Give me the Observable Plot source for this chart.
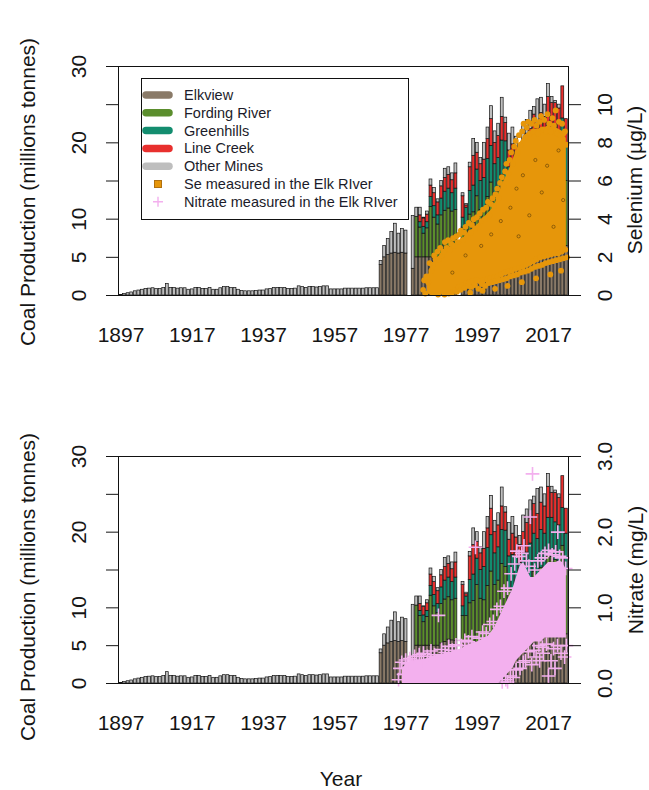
<!DOCTYPE html>
<html><head><meta charset="utf-8">
<script src="https://cdn.jsdelivr.net/npm/d3@7"></script>
<script src="https://cdn.jsdelivr.net/npm/@observablehq/plot@0.6"></script>
<style>
body{margin:0;background:#fff;}
#wrap{position:relative;width:649px;height:790px;font-family:"Liberation Sans",Arial,sans-serif;color:#151515;overflow:hidden;background:#fff;}
.lbl{position:absolute;white-space:nowrap;font-size:21px;line-height:1;transform:translate(-50%,-50%);}
.rot{transform:translate(-50%,-50%) rotate(-90deg);}
</style></head><body>
<div id="wrap">
 <div id="top" style="position:absolute;left:0;top:0"></div>
 <div id="bot" style="position:absolute;left:0;top:390px"></div>
 <div class="lbl rot" style="left:27px;top:192px">Coal Production (millions tonnes)</div>
 <div class="lbl rot" style="left:27px;top:587px">Coal Production (millions tonnes)</div>
 <div class="lbl rot" style="left:634px;top:180px">Selenium (µg/L)</div>
 <div class="lbl rot" style="left:635px;top:570px">Nitrate (mg/L)</div>
 <div class="lbl" style="left:341px;top:778px">Year</div>
 <div id="legend" style="position:absolute;left:141px;top:78px"></div>
</div>
<script>
// ---------- categories ----------
const years = d3.range(1897, 2023);
const modernStart = 1970;
const mines = ["Elkview", "Fording River", "Greenhills", "Line Creek", "Other Mines"];
const mineColors = ["#8a7a68", "#5b8e2d", "#138d6f", "#e8302e", "#bebebe"];
const labelYears = [1897, 1917, 1937, 1957, 1977, 1997, 2017];
const coalTicks = [0, 5, 10, 15, 20, 25, 30];
const coalLabels = [0, 5, 10, 20, 30];
const seTicks = [0, 2, 4, 6, 8, 10];
const no3Ticks = [0, 0.5, 1, 1.5, 2, 2.5, 3];
const no3Labels = [0, 1, 2, 3];

// ---------- coal production (millions tonnes) ----------
// Other Mines, 1897-2022
const otherMines = [
 0.05,0.2,0.3,0.4,0.55,0.65,0.75,0.85,0.9,0.95,
 0.85,0.85,1.0,1.5,1.0,1.0,0.9,0.95,0.95,0.75,
 0.8,1.0,1.0,0.85,0.85,1.0,0.75,0.75,0.95,1.1,
 1.1,1.0,1.0,0.75,0.6,0.55,0.55,0.55,0.6,0.65,
 0.65,0.8,0.85,1.0,1.0,1.0,1.0,0.85,0.85,0.9,
 1.2,1.1,1.0,1.1,1.1,1.05,1.1,1.2,1.2,0.8,
 0.8,0.8,0.8,0.9,0.9,0.9,0.9,0.9,0.9,0.95,
 0.95,0.95,0.95,
 0.5,1.5,2.1,2.8,3.8,2.6,3.1,3.0,0,6.9,
 1.2,1.0,0.1,0.4,0.8,0.7,0.4,0.7,1.2,1.0,
 0.9,1.3,0,0.4,0.2,0.6,2.2,1.3,0.8,2.2,
 1.5,1.7,1.5,1.6,2.5,0.7,2.2,2.2,1.5,1.2,
 2.2,1.8,2.4,1.0,3.3,2.0,1.6,1.7,0.8,0.3,
 0.5,0.0,0.0
];
// 1970-2022
const elkview = [
 4.0,5.0,5.3,5.5,5.6,5.5,5.6,5.5,0,3.5,
 5.0,5.0,5.0,5.0,5.0,5.0,5.0,5.3,5.5,5.8,
 5.7,5.6,0,5.4,5.4,5.4,5.4,5.4,5.4,5.4,
 5.4,5.4,5.4,5.4,6.0,6.0,6.0,6.0,6.0,5.8,
 6.0,6.0,6.2,6.3,6.3,6.5,6.5,6.5,6.5,6.5,
 6.5,6.5,6.5
];
const fordingRiver = [
 0,0,0,0,0,0,0,0,0,0,
 5.3,3.9,3.1,3.8,6.6,5.2,4.3,5.2,5.6,5.6,
 5.3,5.6,0,3.5,3.5,5.2,5.5,7.6,5.8,5.6,
 7.5,9.4,7.6,8.2,9.8,9.4,6.6,6.5,6.4,6.1,
 6.6,6.8,7.5,8.5,7.8,8.8,8.5,10.4,10.2,9.8,
 9.6,11.7,8.5
];
const greenhills = [
 0,0,0,0,0,0,0,0,0,0,
 0,0.7,0.9,0.8,1.3,1.5,1.2,2.2,2.5,2.6,
 2.4,2.8,0,1.3,2.6,3.1,3.5,3.5,3.8,4.4,
 5.0,4.8,4.2,4.4,4.5,4.8,4.2,4.5,4.3,4.0,
 4.6,4.5,4.8,5.0,5.0,5.0,4.8,5.0,5.2,5.0,
 4.8,5.0,4.8
];
const lineCreek = [
 0,0,0,0,0,0,0,0,0,0,
 0,0.9,1.1,1.0,1.5,1.7,1.7,1.6,1.8,1.8,
 1.7,2.0,0,2.8,0.3,3.1,3.9,2.2,2.2,2.4,
 2.6,3.5,2.8,2.9,3.1,2.4,2.2,2.8,2.6,2.4,
 2.8,3.9,3.3,3.9,3.3,3.6,3.6,4.1,3.3,3.9,
 3.6,4.2,3.3
];

// ---------- selenium in the Elk River (µg/L) ----------
// dense core of the sample cloud, per year
const seBandYears = d3.range(1983, 2023);
const seLow = [
 0.1,0.0,0.0,0.0,0.05,0.1,0.15,0.25,0.35,0.5,
 0.6,0.65,0.7,0.7,0.75,0.75,0.75,0.8,0.85,0.9,
 0.95,1.05,1.15,1.2,1.25,1.35,1.4,1.45,1.55,1.65,
 1.75,1.85,1.95,2.0,2.05,2.1,2.15,2.15,2.25,2.35
];
const seHigh = [
 0.9,1.5,1.8,2.0,2.2,2.4,2.5,2.6,2.7,2.9,
 3.0,3.2,3.4,3.5,3.7,3.9,4.1,4.3,4.5,4.8,
 5.3,5.8,6.2,6.6,7.1,7.6,8.0,8.3,8.5,8.6,
 8.7,8.7,8.8,8.8,8.9,8.8,8.8,8.7,8.6,8.2
];
// individual samples at the fringe of the cloud
const seSamples = [
 [1982.3,0.3],[1982.6,0.8],[1982.9,0.1],[1983.2,1.0],[1983.7,0.7],[1984.1,1.7],[1984.6,1.3],[1985.0,1.6],
 [1985.4,2.1],[1985.8,1.9],[1986.3,2.3],[1986.7,1.9],[1987.1,2.5],[1987.6,2.1],[1988.0,2.3],[1988.4,2.8],
 [1988.9,2.5],[1989.3,2.9],[1989.8,2.4],[1990.2,2.7],[1990.7,3.0],[1991.1,2.6],[1991.6,3.1],[1992.0,2.8],
 [1992.5,3.2],[1992.9,3.4],[1993.4,2.9],[1993.8,3.3],[1994.2,3.6],[1994.7,3.1],[1995.1,3.8],[1995.6,3.3],
 [1996.0,3.7],[1996.5,4.0],[1996.9,3.5],[1997.4,4.1],[1997.8,3.6],[1998.2,4.3],[1998.7,3.9],[1999.1,4.5],
 [1999.6,4.0],[2000.0,4.6],[2000.5,4.9],[2000.9,4.2],[2001.3,4.8],[2001.8,5.1],[2002.2,4.7],[2002.6,5.3],
 [2003.1,5.6],[2003.5,5.1],[2003.9,5.9],[2004.4,6.2],[2004.8,5.7],[2005.3,6.5],[2005.7,6.9],[2006.2,6.4],
 [2006.6,7.1],[2007.0,7.5],[2007.5,6.9],[2007.9,7.8],[2008.3,8.1],[2008.8,7.5],[2009.2,8.4],[2009.6,7.9],
 [2010.1,8.6],[2010.5,9.0],[2011.0,8.3],[2011.4,8.8],[2011.8,9.1],[2012.3,8.5],[2012.7,9.0],[2013.2,8.6],
 [2013.6,9.2],[2014.1,8.9],[2014.5,8.5],[2015.0,9.1],[2015.4,9.4],[2015.9,8.7],[2016.3,9.2],[2016.8,8.6],
 [2017.2,9.5],[2017.7,9.0],[2018.1,8.6],[2018.6,9.3],[2019.0,8.9],[2019.5,9.7],[2019.9,8.5],[2020.4,9.1],
 [2020.8,8.4],[2021.3,9.0],[2021.7,8.5],[2022.1,8.6],[2022.5,7.9],
 [1986.5,0.05],[1988.3,0.05],[1989.5,0.1],[1990.4,0.15],[1991.2,0.3],[1991.8,0.2],[1992.3,0.45],[1992.8,0.3],
 [1993.3,0.55],[1993.9,0.4],[1994.4,0.65],[1994.9,0.5],[1995.3,0.7],[1995.8,0.45],[1996.3,0.75],[1996.8,0.55],
 [1997.3,0.8],[1997.8,0.35],[1998.3,0.75],[1998.8,0.6],[1999.2,0.8],[1999.7,0.5],[2000.2,0.85],[2000.7,0.65],
 [2001.2,0.9],[2001.7,0.7],[2002.2,0.95],[2002.7,0.75],[2003.2,1.0],[2003.7,0.8],[2004.2,1.1],[2004.7,0.85],
 [2005.2,1.2],[2005.7,0.9],[2006.2,1.25],[2006.7,1.0],[2007.2,1.3],[2007.7,1.05],[2008.2,1.4],[2008.7,1.1],
 [2009.2,1.45],[2009.7,1.2],[2010.2,1.5],[2010.7,1.25],[2011.2,1.6],[2011.7,1.3],[2012.2,1.7],[2012.7,1.4],
 [2013.2,1.8],[2013.7,1.5],[2014.2,1.9],[2014.7,1.55],[2015.2,2.0],[2015.7,1.6],[2016.2,2.05],[2016.7,1.7],
 [2017.2,2.1],[2017.7,1.75],[2018.2,2.15],[2018.7,1.8],[2019.2,2.2],[2019.7,1.85],[2020.2,2.2],[2020.7,1.9],
 [2021.2,2.3],[2021.7,1.95],[2022.2,2.4],[2022.7,2.0],
 [1995.5,0.15],[1999.0,0.25],[2002.5,0.35],[2006.0,0.5],[2010.0,0.7],[2014.0,0.9],[2018.0,1.1],[2021.0,1.3]
];
// a few samples drawn with dark rims inside the cloud
const seDarkSamples = [
 [1990.5,1.2],[1994.2,2.1],[1998.6,2.6],[2001.4,3.2],[2004.1,3.9],[2006.8,4.6],[2008.5,5.6],[2010.3,6.3],
 [2012.1,4.2],[2013.8,7.1],[2015.6,5.4],[2017.1,6.8],[2018.9,3.6],[2020.3,7.6],[2021.6,5.0],[2009.1,3.1]
];

// ---------- nitrate in the Elk River (mg/L) ----------
const no3BandYears = d3.range(1976, 2023);
const no3Low = [
 0,0,0,0,0,0,0,0,0,0,
 0,0,0,0,0,0,0,0,0,0,
 0,0,0,0,0,0,0,0,
 0.05,0.1,0.15,0.2,0.3,0.35,0.4,0.45,0.5,0.55,
 0.55,0.55,0.6,0.6,0.6,0.6,0.6,0.6,0.6
];
const no3High = [
 0.2,0.25,0.28,0.3,0.3,0.3,0.32,0.33,0.35,0.36,
 0.38,0.38,0.4,0.4,0.42,0.43,0.45,0.47,0.5,0.52,
 0.54,0.55,0.57,0.6,0.62,0.68,0.75,0.85,0.95,1.05,
 1.15,1.25,1.4,1.55,1.6,1.5,1.4,1.4,1.45,1.5,
 1.55,1.6,1.6,1.6,1.62,1.6,1.5
];
const no3Samples = [
 [1975.4,0.05],[1975.8,0.2],[1976.3,0.28],[1976.8,0.12],[1977.4,0.31],[1978.0,0.26],[1978.6,0.33],[1979.2,0.28],
 [1979.9,0.36],[1980.5,0.31],[1981.2,0.38],[1981.8,0.3],[1982.4,0.4],[1983.5,0.36],[1984.5,0.43],[1985.5,0.38],
 [1986.6,0.9],[1987.5,0.45],[1988.5,0.41],[1989.5,0.49],[1990.5,0.44],[1991.5,0.51],[1993.0,0.5],[1994.0,0.57],
 [1995.0,0.55],[1996.0,0.62],[1997.0,1.8],[1998.0,0.6],[1999.0,0.68],[2000.0,0.66],[2001.0,0.78],[2002.0,0.82],
 [2003.0,0.98],[2004.0,1.02],[2005.0,1.22],[2006.0,1.26],[2006.0,0.02],[2007.0,1.45],[2008.0,1.58],[2008.6,1.75],
 [2009.2,1.68],[2010.0,1.72],[2010.6,1.82],[2011.3,1.62],[2012.0,1.55],[2012.4,2.2],[2013.0,2.77],[2013.6,1.5],
 [2014.5,1.62],[2015.5,1.66],[2016.5,1.72],[2017.5,1.76],[2018.5,1.7],[2019.5,1.74],[2020.1,2.0],[2020.6,1.68],
 [2021.5,1.66],[2022.3,1.52],
 [2004.5,0.02],[2005.5,0.05],[2006.8,0.1],[2007.6,0.08],[2008.4,0.18],[2009.5,0.2],[2010.4,0.28],[2011.0,0.3],
 [2011.8,0.42],[2012.8,0.25],[2013.4,0.44],[2014.0,0.35],[2014.8,0.5],[2015.0,0.3],[2015.8,0.48],[2016.0,0.4],
 [2016.9,0.52],[2017.5,0.1],[2018.2,0.3],[2018.9,0.46],[2019.3,0.2],[2020.0,0.5],[2021.0,0.4],[2022.0,0.35],[2022.5,0.5]
];

// ---------- build tables ----------
const barRows = [];
years.forEach((year, i) => {
  const j = year - modernStart;
  const vals = [
    j >= 0 ? elkview[j] : 0, j >= 0 ? fordingRiver[j] : 0, j >= 0 ? greenhills[j] : 0,
    j >= 0 ? lineCreek[j] : 0, otherMines[i]
  ];
  vals.forEach((v, k) => { if (v > 0) barRows.push({year, mine: mines[k], value: v}); });
});
const seBand = seBandYears.map((year, i) => ({year, lo: seLow[i], hi: seHigh[i]}));
const no3Band = no3BandYears.map((year, i) => ({year, lo: no3Low[i], hi: no3High[i]}));

const seColor = "#e6960a";
const no3Color = "#f3b0ee";
const seToCoal = 30 / 12;   // right axis 0-12 µg/L spans the same height as 0-30 Mt
const no3ToCoal = 30 / 3;   // right axis 0-3 mg/L

function panel(rightMarks, rightAxis) {
  return Plot.plot({
    width: 649, height: 390,
    marginLeft: 118, marginRight: 81, marginTop: 66, marginBottom: rightAxis.bottom,
    x: {domain: [1896.8, 2023.1]},
    y: {domain: [0, 30]},
    color: {domain: mines, range: mineColors},
    style: {fontFamily: "Liberation Sans, Arial, sans-serif", fontSize: "21px", color: "#151515", background: "transparent", overflow: "visible"},
    marks: [
      Plot.rectY(barRows, {x: "year", interval: 1, y: "value", fill: "mine", order: mines,
        stroke: "#111", strokeWidth: 0.7, insetLeft: 0.35, insetRight: 0.35}),
      ...rightMarks,
      Plot.frame({stroke: "#111", strokeWidth: 1}),
      Plot.axisX({ticks: labelYears.map(y => y + 0.5), tickFormat: d => String(d - 0.5),
        tickSize: 0, tickPadding: 32, label: null}),
      Plot.axisY({anchor: "left", ticks: coalTicks, tickFormat: d => coalLabels.includes(d) ? String(d) : "",
        tickRotate: -90, tickSize: 12, tickPadding: 21, label: null}),
      Plot.axisY({anchor: "right", ticks: rightAxis.ticks.map(t => t * rightAxis.k),
        tickFormat: rightAxis.fmt, tickRotate: -90, tickSize: 12, tickPadding: 31, label: null})
    ]
  });
}

const topChart = panel([
  Plot.areaY(seBand, {x: d => d.year + 0.5, y1: d => d.lo * seToCoal, y2: d => d.hi * seToCoal, fill: seColor}),
  Plot.dot(seSamples, {x: d => d[0], y: d => d[1] * seToCoal, r: 2.9, fill: seColor}),
  Plot.dot(seDarkSamples, {x: d => d[0], y: d => d[1] * seToCoal, r: 1.6, fill: seColor, stroke: "#5a3a08", strokeWidth: 0.6})
], {bottom: 95, k: seToCoal, ticks: seTicks, fmt: d => String(Math.round(d / seToCoal))});
document.getElementById("top").append(topChart);

const botChart = panel([
  Plot.areaY(no3Band, {x: d => d.year + 0.5, y1: d => d.lo * no3ToCoal, y2: d => d.hi * no3ToCoal, fill: no3Color}),
  Plot.dot(no3Samples, {x: d => d[0], y: d => d[1] * no3ToCoal, symbol: "plus", r: 4.5, stroke: no3Color, strokeWidth: 1.6})
], {bottom: 97, k: no3ToCoal, ticks: no3Ticks,
    fmt: d => { const v = d / no3ToCoal; return no3Labels.includes(Math.round(v * 10) / 10) ? v.toFixed(1) : ""; }});
document.getElementById("bot").append(botChart);

// ---------- legend ----------
const legendLabels = ["Elkview", "Fording River", "Greenhills", "Line Creek", "Other Mines",
  "Se measured in the Elk RIver", "Nitrate measured in the Elk RIver"];
const ns = "http://www.w3.org/2000/svg";
const lg = document.createElementNS(ns, "svg");
lg.setAttribute("width", 268); lg.setAttribute("height", 142);
lg.style.fontFamily = "Liberation Sans, Arial, sans-serif";
function el(tag, attrs) { const e = document.createElementNS(ns, tag); for (const k in attrs) e.setAttribute(k, attrs[k]); lg.append(e); return e; }
el("rect", {x: 0.5, y: 0.5, width: 267, height: 141, fill: "#fff", stroke: "#111", "stroke-width": 1});
legendLabels.forEach((lab, i) => {
  const cy = 17 + i * 17.8;
  if (i < 5) {
    el("line", {x1: 5, x2: 28, y1: cy, y2: cy, stroke: mineColors[i], "stroke-width": 7.5, "stroke-linecap": "round"});
  } else if (i === 5) {
    el("rect", {x: 13.5, y: cy - 3.5, width: 7, height: 7, fill: seColor, stroke: "#b07010", "stroke-width": 1});
  } else {
    el("path", {d: `M${17 - 5},${cy}H${17 + 5}M17,${cy - 5}V${cy + 5}`, stroke: no3Color, "stroke-width": 1.4, fill: "none"});
  }
  const t = el("text", {x: 43, y: cy, "dominant-baseline": "central", "font-size": 14.5, fill: "#1c1c2a"});
  t.textContent = lab;
});
document.getElementById("legend").append(lg);
</script>
</body></html>
